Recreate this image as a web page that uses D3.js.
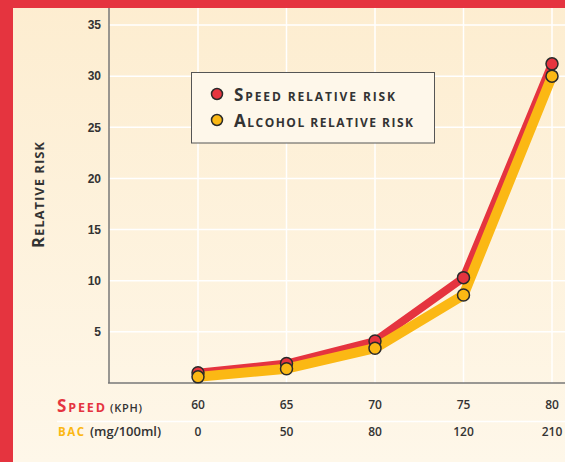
<!DOCTYPE html>
<html><head><meta charset="utf-8">
<script src="https://cdn.jsdelivr.net/npm/d3@7"></script>
<style>
html,body{margin:0;padding:0;background:#fff;}
svg{display:block;font-family:"Open Sans",sans-serif;}
</style></head>
<body><svg id="c" width="565" height="462"></svg>
<script>
const speeds = ["60","65","70","75","80"];
const bacLabels = ["0","50","80","120","210"];
const speedRisk = [1.0, 1.9, 4.1, 10.3, 31.2];
const alcoholRisk = [0.6, 1.4, 3.4, 8.6, 30.0];
const yTicks = [5,10,15,20,25,30,35];

const W=565,H=462;
const RED="#e5343f", YEL="#fbb814", INK="#333";
const svg=d3.select("#c");
const defs=svg.append("defs");
const g0=defs.append("linearGradient").attr("id","bg").attr("x1",0).attr("y1",0).attr("x2",0).attr("y2",1);
g0.append("stop").attr("offset","0%").attr("stop-color","#fdedd0");
g0.append("stop").attr("offset","100%").attr("stop-color","#fef7e9");
svg.append("rect").attr("width",W).attr("height",H).attr("fill","url(#bg)");
svg.append("rect").attr("x",0).attr("y",0).attr("width",13).attr("height",H).attr("fill",RED);
svg.append("rect").attr("x",0).attr("y",0).attr("width",W).attr("height",8).attr("fill",RED);

// small caps helper: uppercase chars at big size, others uppercased at small size
function smallCaps(sel, str, big, small){
  let runs=[];
  for(const ch of str){
    const isBig = ch!==ch.toLowerCase();
    const sz = isBig?big:small;
    if(runs.length && runs[runs.length-1].sz===sz) runs[runs.length-1].t+=ch.toUpperCase();
    else runs.push({sz:sz,t:ch.toUpperCase()});
  }
  runs.forEach(r=>sel.append("tspan").attr("font-size",r.sz).text(r.t));
  return sel;
}

const x=d3.scalePoint().domain(speeds).range([198,552]);
const y=d3.scaleLinear().domain([0,35]).range([383,25]);

const grid=svg.append("g");
grid.selectAll("line.h").data(yTicks).join("line")
  .attr("x1",109).attr("x2",W).attr("y1",d=>y(d)).attr("y2",d=>y(d))
  .attr("stroke","#ffffff").attr("stroke-width",1.5);
grid.selectAll("line.v").data(speeds).join("line")
  .attr("x1",d=>x(d)).attr("x2",d=>x(d)).attr("y1",8).attr("y2",383)
  .attr("stroke","#ffffff").attr("stroke-width",1.5);

const yAxis=svg.append("g").attr("transform","translate(109,0)")
  .call(d3.axisLeft(y).tickValues(yTicks).tickSize(0).tickPadding(8));
yAxis.select(".domain").remove();
yAxis.selectAll("text").attr("font-size",12).attr("font-weight",600).attr("fill",INK);
svg.append("line").attr("x1",109).attr("x2",109).attr("y1",8).attr("y2",383).attr("stroke","#777").attr("stroke-width",1.5);
svg.append("line").attr("x1",108).attr("x2",W).attr("y1",383).attr("y2",383).attr("stroke","#777").attr("stroke-width",1.5);

const line=d3.line().x((d,i)=>x(speeds[i])).y(d=>y(d));
svg.append("path").datum(speedRisk).attr("d",line).attr("fill","none")
  .attr("stroke",RED).attr("stroke-width",8).attr("stroke-linejoin","round");
svg.append("path").datum(alcoholRisk).attr("d",line).attr("fill","none")
  .attr("stroke",YEL).attr("stroke-width",10).attr("stroke-linejoin","round");

svg.append("g").selectAll("circle").data(speedRisk).join("circle")
  .attr("cx",(d,i)=>x(speeds[i])).attr("cy",d=>y(d)).attr("r",6)
  .attr("fill",RED).attr("stroke","#2a2a2a").attr("stroke-width",1.5);
svg.append("g").selectAll("circle").data(alcoholRisk).join("circle")
  .attr("cx",(d,i)=>x(speeds[i])).attr("cy",d=>y(d)).attr("r",6)
  .attr("fill",YEL).attr("stroke","#2a2a2a").attr("stroke-width",1.5);

// y title
const yt=svg.append("text").attr("transform","translate(44,195) rotate(-90)")
  .attr("text-anchor","middle").attr("font-weight",700).attr("fill",INK)
  .attr("textLength",106).attr("lengthAdjust","spacing");
smallCaps(yt,"Relative risk",16.5,13);

// legend
const lg=svg.append("g");
lg.append("rect").attr("x",191.5).attr("y",72.5).attr("width",243).attr("height",70.5)
  .attr("fill","#fef7ea").attr("stroke","#555").attr("stroke-width",1);
const legItems=[{t:"Speed relative risk",c:RED,w:161},{t:"Alcohol relative risk",c:YEL,w:179}];
legItems.forEach((it,i)=>{
  const yy=94+i*26;
  lg.append("circle").attr("cx",217).attr("cy",yy).attr("r",5.5).attr("fill",it.c)
    .attr("stroke","#2a2a2a").attr("stroke-width",1.5);
  const t=lg.append("text").attr("x",234).attr("y",yy+6.5).attr("font-weight",700)
    .attr("fill",INK).attr("textLength",it.w).attr("lengthAdjust","spacing");
  smallCaps(t,it.t,17,12);
});

// bottom labels
const b=svg.append("g");
const sp=b.append("text").attr("x",57).attr("y",412).attr("font-weight",700).attr("fill",RED)
  .attr("textLength",48).attr("lengthAdjust","spacing");
smallCaps(sp,"Speed",17,12.5);
const kp=b.append("text").attr("x",110).attr("y",412).attr("font-weight",600).attr("fill",INK)
  .attr("textLength",32).attr("lengthAdjust","spacing");
smallCaps(kp,"(kph)",12,11);
b.selectAll("text.s").data(speeds).join("text").attr("class","s")
  .attr("x",d=>x(d)).attr("y",409).attr("text-anchor","middle")
  .attr("font-size",12).attr("font-weight",600).attr("fill",INK).text(d=>d);
b.append("line").attr("x1",57).attr("x2",W).attr("y1",421.5).attr("y2",421.5).attr("stroke","#fff").attr("stroke-width",1.5);
b.append("text").attr("x",58).attr("y",436).attr("font-size",11.5).attr("font-weight",700)
  .attr("fill",YEL).attr("textLength",26).attr("lengthAdjust","spacing").text("BAC");
b.append("text").attr("x",90).attr("y",436).attr("font-size",13).attr("font-weight",600)
  .attr("fill",INK).attr("textLength",71).attr("lengthAdjust","spacing").text("(mg/100ml)");
b.selectAll("text.a").data(bacLabels).join("text").attr("class","a")
  .attr("x",(d,i)=>x(speeds[i])).attr("y",436).attr("text-anchor","middle")
  .attr("font-size",12).attr("font-weight",600).attr("fill",INK).text(d=>d);
</script></body></html>
